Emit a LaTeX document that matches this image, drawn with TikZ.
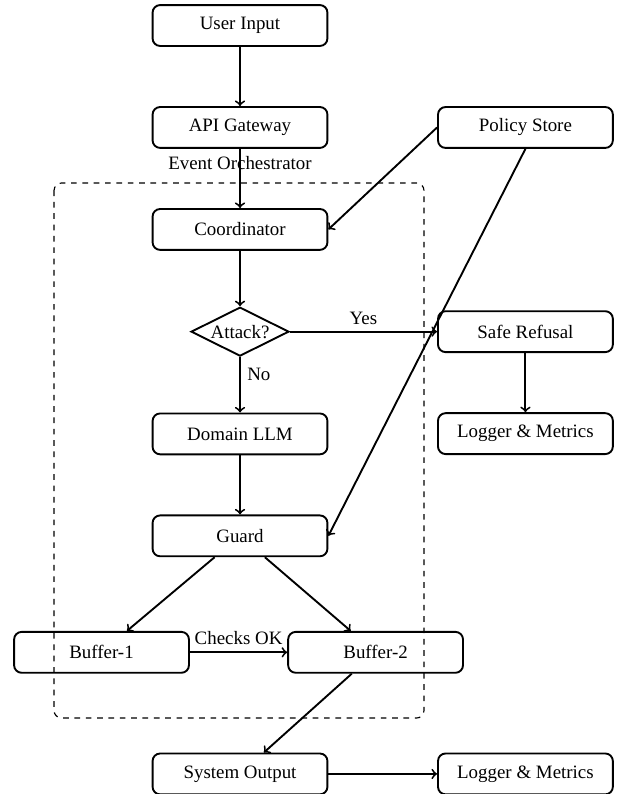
\documentclass[tikz,border=0pt]{standalone}
\usepackage{fontspec}
\setmainfont{Liberation Serif}
\usetikzlibrary{positioning,shapes.geometric}

\tikzset{
  procbox/.style={draw,line width=1pt,rounded corners,minimum width=3.25cm,minimum height=0.76cm,align=center},
  decision/.style={draw,line width=1pt,diamond,aspect=2,inner sep=0pt,minimum width=1.82cm,minimum height=0.91cm},
  flow/.style={->,line width=1pt}
}

\begin{document}
\begin{tikzpicture}[node distance=1.10cm]
\useasboundingbox (0,0) rectangle (11.487,-14.758);

\node [procbox](input) at (4.461,-0.474) {User Input};
\node [procbox,below=of input](gateway) {API Gateway};
\node [procbox,below=of gateway](coord) {Coordinator};
\node [decision,below=1.03cm of coord](attack) {Attack?};
\node [procbox,below=1.03cm of attack](llm) {Domain LLM};
\node [procbox,below=of llm](guard) {Guard};
\node [procbox](buf1) at ([xshift=-2.574cm,yshift=-2.165cm]guard.center) {Buffer-1};
\node [procbox](buf2) at ([xshift=2.52cm,yshift=-2.165cm]guard.center) {Buffer-2};
\node [procbox,below=3.63cm of guard](output) {System Output};

\node [procbox,right=2.02cm of gateway](policy) {Policy Store};
\node [procbox](refusal) at (policy |- attack) {Safe Refusal};
\node [procbox,below=of refusal](log1) {Logger \& Metrics};
\node [procbox](log2) at (policy |- output) {Logger \& Metrics};

% orchestrator frame
\coordinate (frameNW) at (1.004,-3.401);
\coordinate (frameSE) at (7.881,-13.346);
\draw [dashed,semithick,rounded corners] (frameNW) rectangle (frameSE);
\node (orch) at (4.461,-3.03) {Event Orchestrator};


\draw [flow] (input) -- (gateway);
\draw [flow] (gateway) -- (coord);
\draw [flow] (policy.west) -- (coord.east);
\draw [flow] (policy.south) -- (guard.east);
\draw [flow] (coord) -- (attack);
\draw [flow] (attack.east) -- node[above]{Yes} (refusal.west);
\draw [flow] (refusal) -- (log1);
\draw [flow] (attack.south) -- node[right,pos=0.32]{No} (llm.north);
\draw [flow] (llm) -- (guard);
\draw [flow] (guard) -- (buf1);
\draw [flow] (guard) -- (buf2);
\draw [flow] (buf1.east) -- node[above]{Checks OK} (buf2.west);
\draw [flow] (buf2) -- (output);
\draw [flow] (output.east) -- (log2.west);

\end{tikzpicture}
\end{document}
